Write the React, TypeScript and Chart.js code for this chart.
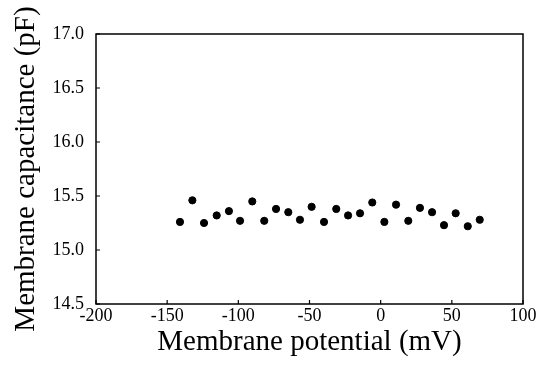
import React, { useEffect, useRef } from "react";
import { Chart, registerables } from "chart.js";

Chart.register(...registerables);

// Membrane potential (mV)
const potentials = [
  -141, -132.3, -124.1, -115.2, -106.6, -98.8, -90.2, -81.8, -73.5, -64.9,
  -56.7, -48.5, -39.8, -31.2, -22.9, -14.5, -5.9, 2.6, 10.8, 19.4, 27.6,
  36.1, 44.5, 52.7, 61.2, 69.6,
];
// Membrane capacitance (pF)
const capacitances = [
  15.26, 15.46, 15.25, 15.32, 15.36, 15.27, 15.45, 15.27, 15.38, 15.35,
  15.28, 15.4, 15.26, 15.38, 15.32, 15.34, 15.44, 15.26, 15.42, 15.27,
  15.39, 15.35, 15.23, 15.34, 15.22, 15.28,
];
const xTickValues = [-200, -150, -100, -50, 0, 50, 100];
const yTickValues = [14.5, 15.0, 15.5, 16.0, 16.5, 17.0];

const xTitle = "Membrane potential (mV)";
const yTitle = "Membrane capacitance (pF)";

const FONT = "'Liberation Serif', 'Times New Roman', serif";

const boxPlugin = {
  id: "boxAndInnerTicks",
  afterDraw(chart: any) {
    const { ctx, chartArea, scales } = chart;
    const { left, right, top, bottom } = chartArea;
    ctx.save();
    ctx.strokeStyle = "#000";
    ctx.lineWidth = 1.5;
    ctx.strokeRect(left, top, right - left, bottom - top);
    ctx.lineWidth = 1.2;
    ctx.beginPath();
    for (const v of xTickValues) {
      const px = scales.x.getPixelForValue(v);
      ctx.moveTo(px, bottom);
      ctx.lineTo(px, bottom - 4);
    }
    for (const v of yTickValues) {
      const py = scales.y.getPixelForValue(v);
      ctx.moveTo(left, py);
      ctx.lineTo(left + 4, py);
    }
    ctx.stroke();
    ctx.restore();
  },
};

export default function App() {
  const ref = useRef<HTMLCanvasElement | null>(null);

  useEffect(() => {
    if (!ref.current) return;
    const chart = new Chart(ref.current, {
      type: "scatter",
      data: {
        datasets: [
          {
            data: potentials.map((x, i) => ({ x, y: capacitances[i] })),
            backgroundColor: "#000",
            borderColor: "#000",
            pointRadius: 3.6,
            pointHoverRadius: 3.6,
          },
        ],
      },
      options: {
        animation: false,
        responsive: false,
        devicePixelRatio: 1,
        layout: { padding: { top: 34, right: 25, left: 0, bottom: 0 } },
        plugins: {
          legend: { display: false },
          tooltip: { enabled: false },
        },
        scales: {
          x: {
            type: "linear",
            min: -200,
            max: 100,
            afterFit: (s: any) => {
              s.height = 63;
            },
            afterBuildTicks: (s: any) => {
              s.ticks = xTickValues.map((v) => ({ value: v }));
            },
            grid: { display: false, drawTicks: false },
            border: { display: false },
            ticks: {
              padding: 1,
              color: "#000",
              font: { family: FONT, size: 18 },
              callback: (v: any) => String(v),
              maxRotation: 0,
            },
            title: {
              display: true,
              text: xTitle,
              color: "#000",
              font: { family: FONT, size: 29 },
              padding: { top: 0, bottom: 7 },
            },
          },
          y: {
            type: "linear",
            min: 14.5,
            max: 17,
            afterFit: (s: any) => {
              s.width = 96;
            },
            afterBuildTicks: (s: any) => {
              s.ticks = yTickValues.map((v) => ({ value: v }));
            },
            grid: { display: false, drawTicks: false },
            border: { display: false },
            ticks: {
              padding: 12,
              color: "#000",
              font: { family: FONT, size: 18 },
              callback: (v: any) => Number(v).toFixed(1),
            },
            title: {
              display: true,
              text: yTitle,
              color: "#000",
              font: { family: FONT, size: 29 },
              padding: { top: 9, bottom: 0 },
            },
          },
        },
      },
      plugins: [boxPlugin],
    });
    return () => chart.destroy();
  }, []);

  return (
    <div style={{ position: "fixed", left: 0, top: 0, width: 548, height: 367, background: "#fff" }}>
      <canvas ref={ref} width={548} height={367} style={{ display: "block" }} />
    </div>
  );
}
